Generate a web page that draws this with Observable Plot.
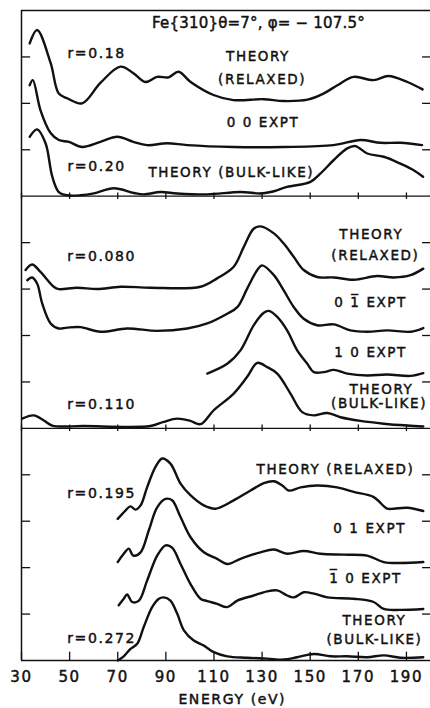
<!DOCTYPE html>
<html>
<head>
<meta charset="utf-8">
<script src="https://cdn.jsdelivr.net/npm/d3@7"></script>
<script src="https://cdn.jsdelivr.net/npm/@observablehq/plot@0.6"></script>
<style>
  html, body { margin: 0; padding: 0; background: #fff; }
  #chart svg text { letter-spacing: 1.6px; stroke: #111; stroke-width: 0.45px; }
</style>
</head>
<body>
<div id="chart"></div>
<script>
// ---------- axis / layout data ----------
const xTicks = [30, 50, 70, 90, 110, 130, 150, 170, 190];
const yTicks = [1, 2, 3, 4, 6, 7, 8, 9, 11, 12, 13];
const panelBounds = [0, 5, 10, 14];
const titleText = "Fe{310}θ=7°, φ= − 107.5°";

// ---------- Panel 1 (00 beam) ----------
const p1RelaxedE = [33.4, 36.5, 42.1, 45.5, 49.0, 55.2, 62.8, 71.1, 76.5, 81.5, 86.4, 91.1, 95.3, 100.3, 109.8, 118.1, 130.6, 138.9, 148.9, 155.5, 161.3, 168, 176.3, 182.5, 190.4, 196.7];
const p1RelaxedY = [13.29, 13.58, 12.87, 12.21, 12.11, 12.0, 12.44, 12.79, 12.65, 12.46, 12.57, 12.56, 12.68, 12.46, 12.18, 12.07, 12.09, 12.05, 12.08, 12.21, 12.39, 12.57, 12.5, 12.59, 12.46, 12.3];
const p1ExptE = [33.4, 34.7, 37.9, 42.1, 45.5, 49.7, 55.2, 62.8, 69.8, 76.5, 82.2, 90.6, 98.9, 118.1, 138.9, 159.7, 170.9, 179.2, 187.5, 196.5];
const p1ExptY = [12.39, 12.5, 11.85, 11.36, 11.21, 11.17, 11.06, 11.17, 11.28, 11.17, 11.1, 11.14, 11.1, 11.06, 11.06, 11.1, 11.21, 11.15, 11.15, 11.1];
const p1BulkE = [33.4, 36.5, 40.0, 42.8, 45.5, 49.0, 54.5, 60.1, 68.4, 76.7, 80.8, 87.8, 94.7, 107.2, 121.0, 129.3, 133.5, 140.4, 150.1, 154.3, 159.8, 165.4, 168.8, 173.7, 180.6, 187.5, 193, 196.9];
const p1BulkY = [11.28, 11.44, 11.14, 10.42, 10.09, 10.02, 10.02, 10.06, 10.17, 10.07, 10.04, 10.09, 10.06, 10.04, 10.09, 10.06, 10.09, 10.2, 10.31, 10.49, 10.78, 11.03, 11.08, 10.92, 10.85, 10.7, 10.56, 10.42];

// ---------- Panel 2 (01̄ and 10 beams) ----------
const p2RelaxedE = [31.7, 34.4, 37.9, 43.4, 45.5, 53.2, 61.5, 71.1, 83.6, 104.4, 111.3, 118.2, 122.4, 126.5, 129.3, 134.9, 139.0, 143.2, 147.3, 152.9, 159.8, 168.1, 177.8, 184.7, 191.7, 197];
const p2RelaxedY = [8.41, 8.53, 8.37, 8.05, 8.0, 8.03, 8.0, 8.05, 8.03, 8.05, 8.23, 8.48, 8.91, 9.3, 9.35, 9.2, 8.98, 8.69, 8.41, 8.26, 8.25, 8.2, 8.28, 8.25, 8.3, 8.44];
const p2Expt01E = [32.4, 34.4, 36.5, 38.6, 42.1, 45.5, 49.0, 54.5, 62.8, 73.9, 86.4, 98.9, 107.2, 115.5, 119.7, 123.8, 128.0, 130.0, 134.9, 139.0, 143.2, 147.3, 152.9, 159.8, 166.7, 173.7, 182, 191.7, 197];
const p2Expt01Y = [8.19, 8.25, 8.12, 7.69, 7.26, 7.15, 7.17, 7.18, 7.08, 7.15, 7.1, 7.15, 7.26, 7.47, 7.61, 8.01, 8.41, 8.51, 8.3, 7.97, 7.61, 7.36, 7.22, 7.24, 7.11, 7.08, 7.11, 7.08, 7.16];
const p2Expt10E = [107.2, 115.5, 121.0, 126.5, 130.7, 132.8, 136.3, 140.4, 144.6, 148.8, 151.5, 155.6, 159.8, 165.4, 173.7, 182.0, 191.7, 197];
const p2Expt10Y = [6.18, 6.39, 6.68, 7.22, 7.49, 7.53, 7.4, 7.11, 6.68, 6.39, 6.21, 6.21, 6.26, 6.18, 6.14, 6.16, 6.13, 6.19];
const p2BulkE = [30.3, 35.1, 39.3, 42.8, 55.9, 83.6, 89.1, 94.7, 100.2, 104.4, 109.9, 118.2, 123.8, 128.0, 132.1, 136.3, 141.8, 146.7, 151.5, 157.1, 162.6, 170.9, 180.6, 190.3, 197];
const p2BulkY = [5.21, 5.28, 5.17, 5.06, 5.05, 5.05, 5.14, 5.21, 5.16, 5.09, 5.39, 5.75, 6.11, 6.41, 6.32, 6.18, 5.75, 5.35, 5.28, 5.33, 5.24, 5.16, 5.1, 5.06, 5.04];

// ---------- Panel 3 (01 and 1̄0 beams) ----------
const p3RelaxedE = [70.0, 73.2, 75.3, 77.4, 79.5, 82.2, 85.7, 88.5, 91.9, 96.1, 100.2, 105.8, 110.6, 118.2, 125.2, 130.7, 134.9, 138.4, 141.1, 146.0, 152.9, 161.2, 168.1, 176.4, 182.0, 184.7, 190.3, 197];
const p3RelaxedY = [3.05, 3.23, 3.32, 3.25, 3.34, 3.73, 4.17, 4.35, 4.24, 3.81, 3.56, 3.34, 3.27, 3.45, 3.66, 3.82, 3.86, 3.77, 3.66, 3.73, 3.77, 3.73, 3.63, 3.52, 3.27, 3.27, 3.29, 3.22];
const p3Expt01E = [70.0, 72.5, 74.6, 76.4, 79.5, 82.9, 86.4, 89.9, 92.6, 96.1, 100.2, 105.8, 111.3, 115.5, 121.0, 129.3, 134.9, 140.4, 147.3, 154.3, 164.0, 173.7, 180.6, 187.5, 197];
const p3Expt01Y = [2.12, 2.3, 2.41, 2.26, 2.33, 2.8, 3.3, 3.48, 3.45, 3.09, 2.66, 2.33, 2.19, 2.08, 2.19, 2.33, 2.39, 2.3, 2.36, 2.3, 2.28, 2.26, 2.12, 2.1, 2.12];
const p3Expt10E = [70.4, 72.5, 73.9, 76.0, 78.8, 82.2, 86.4, 89.9, 92.6, 96.1, 100.2, 104.4, 107.2, 111.3, 115.5, 119.7, 126.5, 132.1, 136.3, 140.4, 143.2, 147.3, 151.5, 157.1, 168.1, 176.4, 180.6, 187.5, 197];
const p3Expt10Y = [1.19, 1.33, 1.42, 1.26, 1.29, 1.72, 2.26, 2.48, 2.43, 2.08, 1.65, 1.33, 1.28, 1.22, 1.15, 1.29, 1.4, 1.49, 1.51, 1.4, 1.36, 1.47, 1.44, 1.36, 1.33, 1.26, 1.11, 1.09, 1.11];
const p3BulkE = [70.0, 72.5, 75.3, 78.1, 80.8, 84.3, 87.1, 89.1, 91.9, 94.7, 97.5, 101.6, 105.8, 109.9, 115.5, 123.8, 132.1, 139.0, 144.6, 151.5, 158.4, 165.4, 173.7, 180.6, 187.5, 197];
const p3BulkY = [0, 0.09, 0.25, 0.36, 0.72, 1.15, 1.33, 1.36, 1.29, 1.01, 0.65, 0.43, 0.32, 0.18, 0.09, 0.06, 0.04, 0.02, 0.07, 0.14, 0.09, 0.09, 0.07, 0.11, 0.06, 0.07];

// ---------- labels ----------
const labelText = ["r=0.18", "THEORY", "(RELAXED)", "0 0 EXPT", "r=0.20", "THEORY (BULK-LIKE)",
  "THEORY", "(RELAXED)", "r=0.080", "0 1\u0305 EXPT", "1 0 EXPT", "THEORY", "(BULK-LIKE)", "r=0.110",
  "THEORY (RELAXED)", "r=0.195", "0 1 EXPT", "1\u0305 0 EXPT", "THEORY", "(BULK-LIKE)", "r=0.272"];
const labelE = [49.1, 128.3, 130.0, 130.4, 49.1, 117.2,
  175.4, 177.1, 49.0, 175.1, 175.1, 179.6, 178.6, 49.0,
  160.5, 49.0, 174.7, 173.0, 176.7, 176.7, 49.0];
const labelY = [13.08, 13.0, 12.52, 11.58, 10.63, 10.5,
  9.17, 8.71, 8.71, 7.7, 6.64, 5.84, 5.53, 5.51,
  4.11, 3.59, 2.85, 1.77, 0.85, 0.45, 0.47];

// ---------- build tables ----------
const curves = [
  [p1RelaxedE, p1RelaxedY], [p1ExptE, p1ExptY], [p1BulkE, p1BulkY],
  [p2RelaxedE, p2RelaxedY], [p2Expt01E, p2Expt01Y], [p2Expt10E, p2Expt10Y], [p2BulkE, p2BulkY],
  [p3RelaxedE, p3RelaxedY], [p3Expt01E, p3Expt01Y], [p3Expt10E, p3Expt10Y], [p3BulkE, p3BulkY]
];
const curveData = curves.flatMap(([E, Y], k) => E.map((e, i) => ({id: k, e, v: Y[i]})));
const labels = labelText.map((t, i) => ({t, e: labelE[i], v: labelY[i], left: t.startsWith("r=")}));
const innerBounds = panelBounds.slice(1, -1);

const font = "DejaVu Sans, sans-serif";
const ink = "#111";

const chart = Plot.plot({
  width: 430,
  height: 708,
  marginLeft: 21,
  marginRight: 0,
  marginTop: 10,
  marginBottom: 48,
  style: {fontFamily: font, fontSize: "14px", color: ink, background: "#fff", overflow: "visible"},
  x: {domain: [30, 200], axis: null},
  y: {domain: [0, 14], axis: null},
  marks: [
    // frame: panel boundaries, top line, left edge
    Plot.ruleY(panelBounds, {stroke: ink, strokeWidth: 1.3}),
    Plot.ruleX([30], {stroke: ink, strokeWidth: 1.5}),
    // left ticks (inward)
    Plot.ruleY(yTicks, {x1: 30, x2: 33.8, stroke: ink, strokeWidth: 1.3}),
    // right ticks
    Plot.ruleY(yTicks, {x1: 196.7, x2: 200, stroke: ink, strokeWidth: 1.3}),
    // x ticks on panel separators (crossing)
    ...innerBounds.map(b => Plot.ruleX(xTicks, {y1: b - 0.07, y2: b + 0.07, stroke: ink, strokeWidth: 1.3})),
    // x ticks on bottom axis (inward)
    Plot.ruleX(xTicks, {y1: 0, y2: 0.18, stroke: ink, strokeWidth: 1.3}),
    // bottom tick labels
    Plot.axisX({ticks: xTicks, tickSize: 0, tickPadding: 11, fontSize: 15, label: null}),
    Plot.text(["ENERGY (eV)"], {x: () => 117.6, y: () => 0, dy: 39, text: d => d, fontSize: 14, fill: ink}),
    // curves
    Plot.line(curveData, {x: "e", y: "v", z: "id", stroke: ink, strokeWidth: 2.4, curve: "catmull-rom"}),
    // labels
    Plot.text(labels.filter(d => d.left), {x: "e", y: "v", text: "t", textAnchor: "start", fontSize: 14, fill: ink}),
    Plot.text(labels.filter(d => !d.left), {x: "e", y: "v", text: "t", textAnchor: "middle", fontSize: 13.5, fill: ink}),
    // title
    Plot.text([titleText], {x: () => 128.5, y: () => 13.73, text: d => d, fontSize: 15, fill: ink})
  ]
});
d3.select(chart).selectAll("text").filter(function () { return this.textContent === titleText; })
  .style("letter-spacing", "0.2px");
document.getElementById("chart").appendChild(chart);
</script>
</body>
</html>
